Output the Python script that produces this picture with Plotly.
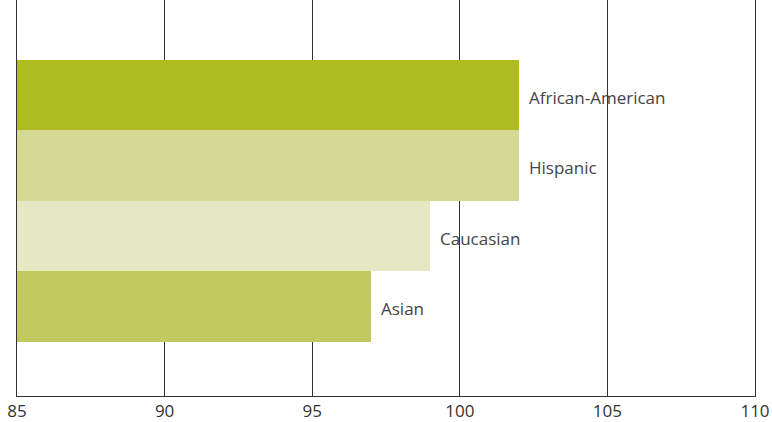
import plotly.graph_objects as go

categories = ["Asian", "Caucasian", "Hispanic", "African-American"]
values = [97, 99, 102, 102]
colors = ["#c2c95e", "#e4e9c4", "#d4da93", "#afbc22"]
x_ticks = [85, 90, 95, 100, 105, 110]

base = 85
positions = list(range(len(categories)))

fig = go.Figure()
fig.add_trace(go.Bar(
    y=positions,
    x=[v - base for v in values],
    base=base,
    orientation="h",
    marker=dict(color=colors, line=dict(width=0)),
    width=1,
    hoverinfo="skip",
))

for p, v, c in zip(positions, values, categories):
    fig.add_annotation(x=v, y=p, text=c, showarrow=False, xanchor="left",
                       yanchor="middle", xshift=8, yshift=-2,
                       font=dict(family="Open Sans", size=17, color="#444444"))

fig.update_layout(
    width=772, height=422,
    margin=dict(l=17, r=17, t=0, b=26),
    plot_bgcolor="white", paper_bgcolor="white",
    showlegend=False, bargap=0,
    xaxis=dict(range=[85, 110], tickvals=x_ticks, ticktext=[str(t) for t in x_ticks],
               showgrid=True, gridcolor="#333333", gridwidth=1,
               showline=True, linecolor="#333333", linewidth=1,
               zeroline=False, ticks="", ticklen=0,
               tickfont=dict(family="Open Sans", size=17, color="#333333")),
    yaxis=dict(range=[-1.271, 4.352], showticklabels=False, showgrid=False,
               zeroline=False, showline=True, linecolor="#333333", linewidth=1,
               mirror=True, ticks=""),
)

fig.write_html("out.html")
